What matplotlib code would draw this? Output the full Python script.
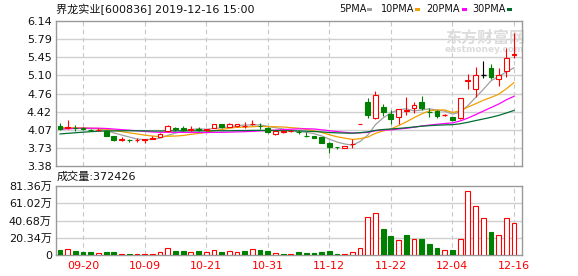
import numpy as np
import pandas as pd
import matplotlib
matplotlib.use('Agg')
import matplotlib.pyplot as plt
from matplotlib.patches import Rectangle

plt.rcParams['font.family'] = ['DejaVu Sans', 'Noto Sans CJK SC']

# 起始日前29个交易日收盘价 (用于均线起点)
hist_close = [3.76, 3.78, 3.75, 3.79, 3.80, 3.82, 3.81, 3.84, 3.86, 3.89,
              3.93, 3.97, 4.02, 4.05, 4.08, 4.06, 4.09, 4.11, 4.10, 4.09,
              4.12, 4.14, 4.11, 4.13, 4.10, 4.11, 4.09, 4.11, 4.10]

open_ = [4.14, 4.10, 4.11, 4.10, 4.07, 4.06, 4.05, 3.95, 3.88, 3.88,
         3.87, 3.88, 3.90, 3.94, 4.04, 4.10, 4.11, 4.07, 4.08, 4.06,
         4.10, 4.17, 4.12, 4.14, 4.14, 4.17, 4.15, 4.11, 3.98, 4.02,
         4.04, 4.03, 3.96, 3.96, 3.94, 3.81, 3.75, 3.73, 3.79, 4.17,
         4.60, 4.30, 4.50, 4.37, 4.31, 4.42, 4.48, 4.60, 4.41, 4.43,
         4.35, 4.31, 4.29, 5.00, 4.84, 5.11, 5.24, 5.03, 5.19, 5.49]
high = [4.20, 4.26, 4.16, 4.12, 4.08, 4.10, 4.06, 3.95, 3.93, 3.89,
        3.91, 3.90, 3.95, 4.00, 4.16, 4.13, 4.15, 4.14, 4.13, 4.09,
        4.18, 4.18, 4.19, 4.18, 4.21, 4.26, 4.19, 4.12, 4.05, 4.06,
        4.06, 4.07, 4.02, 3.96, 3.94, 3.84, 3.75, 3.77, 3.89, 4.18,
        4.67, 4.81, 4.56, 4.45, 4.47, 4.69, 4.60, 4.71, 4.48, 4.44,
        4.37, 4.32, 4.68, 5.13, 5.27, 5.37, 5.32, 5.24, 5.63, 5.91]
low = [4.07, 4.09, 4.04, 4.07, 4.04, 4.05, 3.95, 3.86, 3.86, 3.84,
       3.83, 3.81, 3.89, 3.93, 4.03, 4.04, 4.05, 4.04, 4.04, 4.05,
       4.10, 4.11, 4.12, 4.13, 4.11, 4.16, 4.09, 4.01, 3.97, 4.01,
       4.03, 3.98, 3.94, 3.92, 3.82, 3.63, 3.70, 3.73, 3.73, 4.17,
       4.29, 4.28, 4.34, 4.17, 4.17, 4.35, 4.38, 4.45, 4.31, 4.29,
       4.33, 4.24, 4.28, 4.84, 4.69, 5.05, 5.03, 4.90, 5.08, 5.43]
close = [4.09, 4.12, 4.10, 4.09, 4.06, 4.07, 3.96, 3.87, 3.89, 3.87,
         3.88, 3.89, 3.92, 3.99, 4.14, 4.09, 4.07, 4.08, 4.07, 4.08,
         4.18, 4.12, 4.17, 4.18, 4.15, 4.18, 4.14, 4.02, 4.05, 4.04,
         4.05, 4.02, 3.95, 3.92, 3.82, 3.75, 3.74, 3.77, 3.80, 4.18,
         4.35, 4.74, 4.41, 4.28, 4.47, 4.45, 4.54, 4.49, 4.40, 4.34,
         4.35, 4.26, 4.68, 5.02, 5.11, 5.11, 5.08, 5.11, 5.43, 5.52]
volume = [59000, 70000, 47000, 38000, 38000, 25000, 38000, 38000, 12000, 12000,
          12000, 12000, 12000, 35000, 80000, 47000, 47000, 35000, 47000, 35000,
          58000, 35000, 47000, 35000, 47000, 70000, 58000, 47000, 25000, 12000,
          12000, 35000, 25000, 25000, 35000, 47000, 12000, 12000, 35000, 82000,
          445000, 495000, 307000, 224000, 177000, 236000, 189000, 189000, 130000, 83000,
          59000, 59000, 189000, 755000, 578000, 436000, 271000, 236000, 436000, 372426]

price_ticks = ['3.38', '3.73', '4.07', '4.42', '4.76', '5.10', '5.45', '5.79', '6.14']
vol_ticks = ['0', '20.34万', '40.68万', '61.02万', '81.36万']

holidays = ['2019-10-01', '2019-10-02', '2019-10-03', '2019-10-04', '2019-10-07']
dates = pd.bdate_range('2019-09-17', '2019-12-16', freq='C', holidays=holidays)
date_idx = list(range(3, len(dates), 8))

RED = '#ff0000'
GREEN = '#008000'
n = len(close)
x = np.arange(n)
prev_close = [hist_close[-1]] + close[:-1]

all_close = pd.Series(hist_close + close)
ma = {k: all_close.rolling(k).mean().values[-n:] for k in (5, 10, 20, 30)}
ma_colors = {5: '#a0a0a0', 10: '#f0a000', 20: '#ff00ff', 30: '#006e32'}

fig = plt.figure(figsize=(5.78, 2.76), dpi=100)
W, H = 578, 276
ax = fig.add_axes([56 / W, 110 / H, 466 / W, 145 / H])
axv = fig.add_axes([56 / W, 21 / H, 466 / W, 69 / H])

for a in (ax, axv):
    a.set_xlim(-0.52, 60.04)
    for s in a.spines.values():
        s.set_color('#999999')
        s.set_linewidth(1)
    for i in date_idx:
        a.axvline(i, color='#c8c8c8', lw=0.8, ls=(0, (4, 3)), zorder=0)
    a.tick_params(axis='y', length=0, pad=3, labelsize=8, labelcolor='#111111')
    a.tick_params(axis='x', length=0)

# 水印 (在K线下面)
ax.text(0.92, 0.885, '东方财富网', transform=ax.transAxes, fontsize=11.5, fontweight='bold',
        color='#dcdcdc', ha='center', va='center', zorder=1)
ax.text(0.92, 0.80, 'eastmoney.com', transform=ax.transAxes, fontsize=6.5, fontweight='bold',
        color='#dcdcdc', ha='center', va='center', zorder=1)

# K线
w = 0.62
for i in x:
    o, h, l, c = open_[i], high[i], low[i], close[i]
    if c > o:
        ax.add_patch(Rectangle((i - w / 2, o), w, c - o, facecolor='white',
                               edgecolor=RED, lw=0.8, zorder=3))
        ax.vlines(i, c, h, color=RED, lw=0.8, zorder=3)
        ax.vlines(i, l, o, color=RED, lw=0.8, zorder=3)
    elif c < o:
        ax.vlines(i, l, h, color=GREEN, lw=0.8, zorder=3)
        ax.add_patch(Rectangle((i - w / 2, c), w, o - c, facecolor=GREEN,
                               edgecolor=GREEN, lw=0.8, zorder=3))
    else:
        col = RED if c > prev_close[i] else (GREEN if c < prev_close[i] else 'black')
        ax.vlines(i, l, h, color=col, lw=0.8, zorder=3)
        ax.hlines(c, i - w / 2, i + w / 2, color=col, lw=1.0, zorder=3)

for k in (5, 10, 20, 30):
    ax.plot(x, ma[k], color=ma_colors[k], lw=0.9, zorder=2)

yt = np.linspace(3.38, 6.14, 9)
ax.set_ylim(3.38, 6.14)
ax.set_yticks(yt)
ax.set_yticklabels(price_ticks)
ax.set_xticks([])
for v in yt[1:-1]:
    ax.axhline(v, color='#d0d0d0', lw=1, zorder=0)

# 成交量
up = [close[i] >= prev_close[i] for i in x]
for i in x:
    if up[i]:
        axv.bar(i, volume[i], width=w, facecolor='white', edgecolor=RED, lw=0.8, zorder=3)
    else:
        axv.bar(i, volume[i], width=w, facecolor=GREEN, edgecolor=GREEN, lw=0.8, zorder=3)

vt = np.linspace(0, 813600, 5)
axv.set_ylim(0, 813600)
axv.set_yticks(vt)
axv.set_yticklabels(vol_ticks)
for v in vt[1:-1]:
    axv.axhline(v, color='#d0d0d0', lw=1, zorder=0)
axv.set_xticks(date_idx)
axv.set_xticklabels([dates[i].strftime('%m-%d') for i in date_idx], color=RED, fontsize=8)
axv.tick_params(axis='x', pad=4)

# 文字
fig.text(56 / W, 1 - 9 / H, '界龙实业[600836] 2019-12-16 15:00', fontsize=8,
         va='center', ha='left', color='#111111')
fig.text(57 / W, 1 - 177 / H, '成交量:%d' % volume[-1], fontsize=8,
         va='center', ha='left', color='#111111')

legend_items = [('5PMA', 339, 367, 5), ('10PMA', 381, 415, 10),
                ('20PMA', 426, 462, 20), ('30PMA', 472, 507, 30)]
for label, tx, sx, k in legend_items:
    fig.text(tx / W, 1 - 9 / H, label, fontsize=7, va='center', ha='left', color='#111111')
    fig.patches.append(Rectangle((sx / W, 1 - 11 / H), 5 / W, 3 / H,
                                 facecolor=ma_colors[k], edgecolor='none',
                                 transform=fig.transFigure, figure=fig))

fig.savefig('out.png', dpi=100)
